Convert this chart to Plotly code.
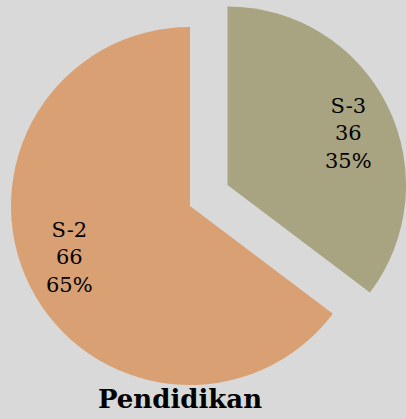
import math
import plotly.graph_objects as go

labels = ["S-3", "S-2"]
values = [36, 66]
colors = ["#a8a381", "#d9a073"]
title_text = "Pendidikan"

W, H = 406, 419
bg = "#d9d9d9"

# pie geometry (pixels): main pie and exploded slice
R = 179
centers = {"S-2": (190, 206), "S-3": (228, 185)}
label_frac = 0.73
label_rot = math.radians(3.3)

total = sum(values)
fig = go.Figure()
annotations = []
cum = 0.0
for i, lab in enumerate(labels):
    cx, cy = centers[lab]
    cols = ["rgba(0,0,0,0)"] * len(labels)
    cols[i] = colors[i]
    fig.add_trace(go.Pie(
        labels=labels, values=values, sort=False, direction="clockwise",
        marker=dict(colors=cols, line=dict(width=0)),
        textinfo="none",
        domain=dict(x=[(cx - R) / W, min(1.0, (cx + R) / W)],
                    y=[1 - (cy + R) / H, 1 - (cy - R) / H]),
        hoverinfo="skip", showlegend=False,
    ))
    # label placed along the slice bisector (angle from data)
    mid = (cum + values[i] / 2) / total * 2 * math.pi + label_rot
    cum += values[i]
    px = cx + label_frac * R * math.sin(mid)
    py = cy - label_frac * R * math.cos(mid)
    pct = round(values[i] / total * 100)
    annotations.append(dict(
        text=f"{lab}<br>{values[i]}<br>{pct}%", x=px / W, y=1 - py / H,
        xref="paper", yref="paper", xanchor="center", yanchor="middle",
        showarrow=False, font=dict(family="DejaVu Serif", size=21, color="#000000"),
    ))

fig.update_layout(
    width=W, height=H,
    margin=dict(l=0, r=0, t=0, b=0),
    paper_bgcolor=bg, plot_bgcolor=bg,
    annotations=annotations,
    title=dict(text="<b>" + title_text + "</b>", x=180 / W, xanchor="center",
               y=1 - 399 / H, yanchor="middle",
               font=dict(family="DejaVu Serif", size=26, color="#000000")),
)

fig.write_html("out.html", config={"displayModeBar": False},
               post_script="document.body.style.margin='0';document.body.style.background='%s';" % bg)
